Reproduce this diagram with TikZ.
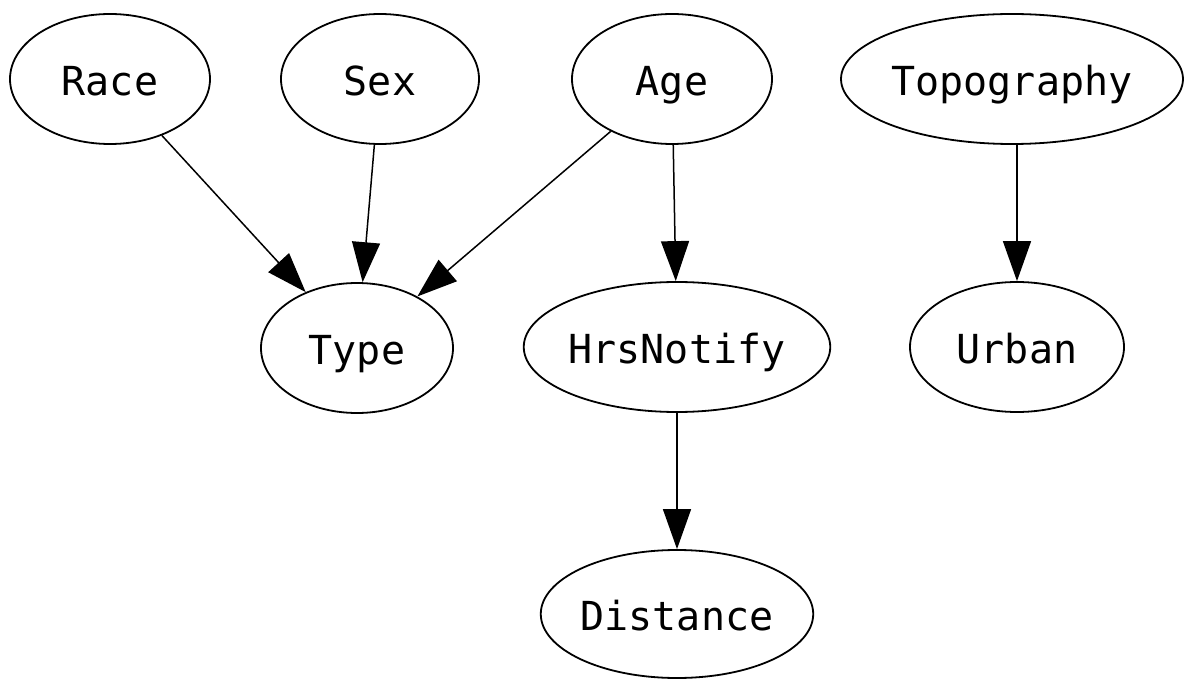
\documentclass[tikz,border=0pt]{standalone}
\usepackage{fontspec}
\setmonofont{DejaVu Sans Mono}
\usetikzlibrary{shapes.geometric,arrows.meta}
\begin{document}
\begin{tikzpicture}[x=1pt,y=-1pt,
  var/.style={ellipse,draw,line width=1.8pt,inner sep=0pt,minimum height=130pt,
    text height=36pt,text depth=3pt,
    font=\ttfamily\fontsize{40}{40}\selectfont},
  edge/.style={line width=1.5pt,-{Triangle[length=40pt,width=28pt]}}]
\useasboundingbox (0,0) rectangle (1187,679);
% top row
\node[var,minimum width=200pt] (race) at (110,79) {Race};
\node[var,minimum width=198pt] (sex)  at (380,79) {Sex};
\node[var,minimum width=200pt] (age)  at (672,79) {Age};
\node[var,minimum width=342pt] (topo) at (1012,79) {Topography};
% middle row
\node[var,minimum width=192pt] (type)   at (357,348) {Type};
\node[var,minimum width=300pt] (hrs)    at (677,347) {HrsNotify};
\node[var,minimum width=214pt] (urban)  at (1017,347) {Urban};
% bottom row
\node[var,minimum width=268pt,minimum height=128pt] (dist) at (677,614) {Distance};
% dependencies
\draw[edge] (race) -- (type);
\draw[edge] (sex) -- (type);
\draw[edge] (age) -- (type);
\draw[edge] (age) -- (hrs);
\draw[edge] (urban |- topo.south) -- (urban);
\draw[edge] (hrs) -- (dist);
\end{tikzpicture}
\end{document}
